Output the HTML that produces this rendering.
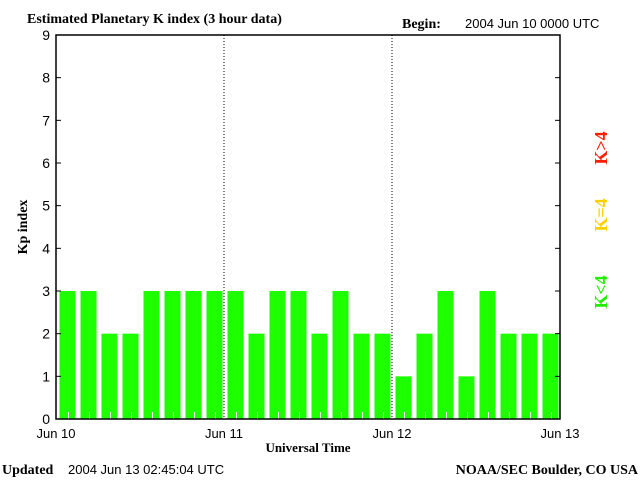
<!DOCTYPE html>
<html><head><meta charset="utf-8"><style>
body{margin:0;background:#fff;}
</style></head><body>
<svg id="chart" width="640" height="480" viewBox="0 0 640 480" xmlns="http://www.w3.org/2000/svg" font-family="Liberation Sans, sans-serif">
<text x="27" y="23" font-family="Liberation Serif, serif" font-weight="bold" font-size="14" fill="#000">Estimated Planetary K index (3 hour data)</text>
<text x="402" y="28" font-family="Liberation Serif, serif" font-weight="bold" font-size="14" fill="#000">Begin:</text>
<text x="465" y="28" font-size="13" fill="#000">2004 Jun 10 0000 UTC</text>
<g id="bars"></g>
<g id="axes"></g>
<text transform="translate(27,227) rotate(-90)" text-anchor="middle" font-family="Liberation Serif, serif" font-weight="bold" font-size="14" fill="#000">Kp index</text>
<text x="308" y="452" text-anchor="middle" font-family="Liberation Serif, serif" font-weight="bold" font-size="13" fill="#000">Universal Time</text>
<text transform="translate(607,148) rotate(-90)" text-anchor="middle" font-family="Liberation Serif, serif" font-weight="bold" font-size="18" fill="#ff2000">K&gt;4</text>
<text transform="translate(607,215) rotate(-90)" text-anchor="middle" font-family="Liberation Serif, serif" font-weight="bold" font-size="18" fill="#ffd000">K=4</text>
<text transform="translate(607,292) rotate(-90)" text-anchor="middle" font-family="Liberation Serif, serif" font-weight="bold" font-size="18" fill="#22ee00">K&lt;4</text>
<text x="2" y="474" font-family="Liberation Serif, serif" font-weight="bold" font-size="14" fill="#000">Updated</text>
<text x="68" y="474" font-size="13" fill="#000">2004 Jun 13 02:45:04 UTC</text>
<text x="638" y="474" text-anchor="end" font-family="Liberation Serif, serif" font-weight="bold" font-size="14" fill="#000">NOAA/SEC Boulder, CO USA</text>
</svg>
<script>
const kpValues=[3,3,2,2,3,3,3,3,3,2,3,3,2,3,2,2,1,2,3,1,3,2,2,2];
const yTicks=[0,1,2,3,4,5,6,7,8,9];
const dayLabels=["Jun 10","Jun 11","Jun 12","Jun 13"];
const NS="http://www.w3.org/2000/svg";
const L=56,R=560,T=35,B=419,YMAX=9;
const y=v=>B-(v/YMAX)*(B-T);
const slotW=(R-L)/kpValues.length;
const x=i=>L+i*slotW;
function mk(tag,attrs,parent){const e=document.createElementNS(NS,tag);for(const k in attrs)e.setAttribute(k,attrs[k]);parent.appendChild(e);return e;}
const bars=document.getElementById('bars'),axes=document.getElementById('axes');
kpValues.forEach((v,i)=>{
  const col=v>4?'#ff2000':(v==4?'#ffd000':'#1eff00');
  const r=mk('rect',{x:x(i)+3.5,y:y(v),width:slotW-5,height:B-y(v),fill:col},bars);
  
  
  const t=mk('line',{x1:x(i)+12.5,x2:x(i)+12.5,y1:B-7,y2:B,stroke:'#fff','stroke-width':1},bars);
  
  
});
const frame=mk('path',{d:`M${L},${T}H${R}V${B}H${L}Z`,fill:'none',stroke:'#000','stroke-width':1.5},axes);


yTicks.forEach(v=>{
  mk('line',{x1:L,x2:L+5,y1:y(v),y2:y(v),stroke:'#000'},axes);
  mk('line',{x1:R-5,x2:R,y1:y(v),y2:y(v),stroke:'#000'},axes);
  const t=mk('text',{x:L-6,y:y(v)+5,'text-anchor':'end','font-size':14,fill:'#000'},axes);
  t.textContent=v;
  
  
});
const dayW=(R-L)/(dayLabels.length-1);
dayLabels.forEach((d,i)=>{
  const xx=L+i*dayW;
  if(i>0&&i<dayLabels.length-1){
    const dl=mk('line',{x1:xx,x2:xx,y1:T,y2:B,stroke:'#000','stroke-dasharray':'1,2'},axes);
    
    
  }
  const t=mk('text',{x:xx,y:438,'text-anchor':'middle','font-size':13,fill:'#000'},axes);
  t.textContent=d;
  
  
});
</script>
</body></html>
